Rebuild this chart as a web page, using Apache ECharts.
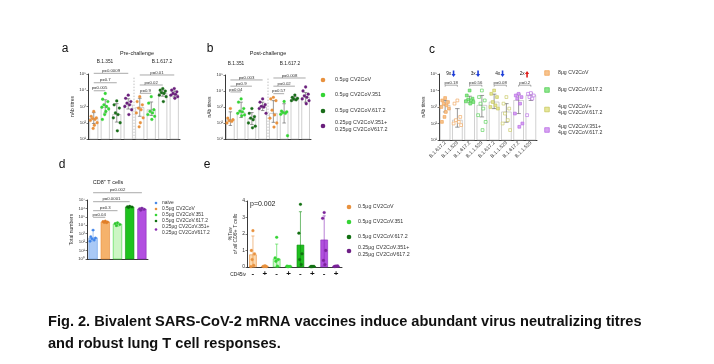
<!DOCTYPE html>
<html><head><meta charset="utf-8">
<script src="https://cdn.jsdelivr.net/npm/echarts@6/dist/echarts.min.js"></script>
<style>html,body{margin:0;padding:0;background:#fff}#c{width:714px;height:364px}</style>
</head><body><div id="c"></div>
<script>
// ================= DATA =================
// Panels a & b (nAb titres, log scale)
const abGroupLabels = ['B.1.351', 'B.1.617.2'];
const abVaccines = ['0.5μg CV2CoV', '0.5μg CV2CoV.351', '0.5μg CV2CoV.617.2', '0.25μg CV2CoV.351+\n0.25μg CV2CoV617.2'];
const abCategories = ['351·CV2CoV', '351·CV2CoV.351', '351·CV2CoV.617.2', '351·bivalent',
                      '617·CV2CoV', '617·CV2CoV.351', '617·CV2CoV.617.2', '617·bivalent'];
const aTitle = 'Pre-challenge';
const aBarValues = [185, 870, 320, 1260, 870, 630, 6760, 5370];
const aErrLow  = [90, 400, 110, 700, 250, 280, 4300, 3900];
const aErrHigh = [420, 2600, 1500, 3000, 3200, 1900, 10500, 9000];
const aPoints = [
  [500, 250, 200, 180, 160, 140, 100, 70, 45],
  [6300, 2800, 2000, 1260, 1000, 900, 700, 500, 320, 160],
  [2200, 1260, 800, 400, 320, 200, 100, 32],
  [5000, 3200, 2000, 1600, 1260, 1000, 630, 320],
  [4000, 2000, 1260, 800, 630, 400, 200, 100, 56],
  [4000, 1600, 630, 500, 400, 320, 250, 160],
  [12600, 10000, 8900, 7100, 6300, 5000, 4000, 2000],
  [12600, 10000, 8000, 6300, 5600, 5000, 4000, 3200]
];
const aPValues = [[0, 1, 9300, 'p=0.005'], [0, 2, 29000, 'p=0.7'], [0, 3, 110000, 'p=0.0009'],
                  [4, 5, 6500, 'p=0.9'], [4, 6, 21000, 'p=0.02'], [4, 7, 87000, 'p=0.01']];

const bTitle = 'Post-challenge';
const bBarValues = [160, 450, 190, 1000, 400, 500, 3200, 4000];
const bErrLow  = [70, 220, 80, 600, 110, 100, 2500, 2000];
const bErrHigh = [500, 2000, 450, 2000, 2500, 1600, 4500, 8000];
const bPoints = [
  [800, 200, 160, 140, 125, 100],
  [3200, 2000, 800, 560, 500, 400, 320, 280],
  [800, 400, 250, 200, 160, 100, 63, 50],
  [3200, 2000, 1400, 1100, 1000, 800, 400],
  [4000, 3200, 2500, 630, 320, 200, 100, 56],
  [2200, 560, 500, 450, 400, 350, 16],
  [5600, 4000, 3500, 3200, 2800, 2500],
  [17800, 10000, 6300, 5000, 4000, 3200, 2500, 1600]
];
const bPValues = [[0, 1, 8700, 'p=0.04'], [0, 2, 20000, 'p=0.9'], [0, 3, 49000, 'p=0.003'],
                  [4, 5, 6800, 'p=0.57'], [4, 6, 20000, 'p=0.02'], [4, 7, 65000, 'p=0.008']];

// Panel c
const cCategories = ['B.1.617.2', 'B.1.1.529', 'B.1.617.2', 'B.1.1.529', 'B.1.617.2', 'B.1.1.529', 'B.1.617.2', 'B.1.1.529'];
const cVaccines = ['8μg CV2CoV', '8μg CV2CoV.617.2', '4μg CV2CoV+\n4μg CV2CoV.617.2', '4μg CV2CoV.351+\n4μg CV2CoV.617.2'];
const cBarValues = [1260, 160, 2800, 1260, 2000, 500, 2500, 5000];
const cErrLow  = [500, 60, 1800, 250, 800, 120, 400, 2500];
const cErrHigh = [2500, 800, 4500, 5000, 6000, 1600, 6000, 7000];
const cPoints = [
  [3500, 2500, 2000, 1600, 1260, 1000, 800, 500, 250, 125],
  [2500, 1600, 250, 160, 125, 100, 80],
  [10000, 5000, 3200, 2800, 2500, 2200, 2000, 1600],
  [10000, 4000, 2500, 1600, 800, 320, 125, 40],
  [10000, 6300, 4000, 2000, 1260, 1000, 800],
  [4000, 1600, 800, 400, 160, 100, 40],
  [6300, 5000, 4000, 3200, 1600, 400, 100, 63],
  [7000, 6300, 5000, 4000, 3200, 320]
];
const cPValues = [[0, 1, 21000, 'p=0.18'], [2, 3, 21000, 'p=0.56'], [4, 5, 21000, 'p=0.08'], [6, 7, 21000, 'p=0.2']];
const cFold = [[0, 1, 100000, '9x', 'down'], [2, 3, 100000, '3x', 'down'], [4, 5, 100000, '4x', 'down'], [6, 7, 100000, '2x', 'up']];

// Panel d
const dTitle = 'CD8⁺ T cells';
const dCategories = ['naive', '0.5μg CV2CoV', '0.5μg CV2CoV.351', '0.5μg CV2CoV.617.2', '0.25μg CV2CoV.351+\n0.25μg CV2CoV617.2'];
const dBarValues = [320, 25000, 14000, 1500000, 850000];
const dErrLow  = [140, 20000, 8000, 1200000, 600000];
const dErrHigh = [2600, 32000, 22000, 1900000, 1200000];
const dPoints = [
  [2700, 450, 320, 250, 180, 130],
  [32000, 28000, 25000, 22000, 20000],
  [20000, 16000, 12600, 9000],
  [1800000, 1600000, 1500000, 1300000],
  [1100000, 900000, 800000, 600000]
];
const dPValues = [[0, 1, 89000, 'p=0.04'], [0, 2, 540000, 'p=0.3'], [0, 3, 6300000, 'p=0.0001'], [0, 4, 73000000, 'p=0.002']];

// Panel e
const eCategories = ['-', '+', '-', '+', '-', '+', '-', '+'];
const eVaccines = ['0.5μg CV2CoV', '0.5μg CV2CoV.351', '0.5μg CV2CoV.617.2', '0.25μg CV2CoV.351+\n0.25μg CV2CoV617.2'];
const eBarValues = [0.74, 0.04, 0.49, 0.04, 1.33, 0.03, 1.64, 0.05];
const eErrLow  = [0, 0.01, 0, 0.02, 0, 0.01, 0.1, 0.02];
const eErrHigh = [1.88, 0.07, 1.39, 0.06, 3.35, 0.05, 3.1, 0.08];
const ePoints = [
  [2.2, 1.0, 0.8, 0.45, 0.1, 0.02],
  [0.06, 0.04, 0.02, 0.03, 0.05],
  [1.8, 0.55, 0.45, 0.35, 0.05],
  [0.03, 0.05, 0.04, 0.02],
  [3.8, 2.05, 0.8, 0.45, 0.15],
  [0.03, 0.02, 0.04, 0.03],
  [3.3, 2.95, 1.0, 0.4, 0.15],
  [0.05, 0.03, 0.06, 0.04]
];
const eTicks = [0, 1, 2, 3, 4];
const ePText = 'p=0.002';

const panelLetters = ['a', 'b', 'c', 'd', 'e'];
const captionLines = ['Fig. 2. Bivalent SARS-CoV-2 mRNA vaccines induce abundant virus neutralizing titres',
                      'and robust lung T cell responses.'];

// ================= STYLE =================
const FONT = '"Liberation Sans", Arial, sans-serif';
const AX = '#222';
const SUP = ['⁰', '¹', '²', '³', '⁴', '⁵', '⁶', '⁷', '⁸'];
const logFmt = v => '10' + SUP[Math.round(Math.log10(v))];
const JIT = [0, -2.6, 2.6, -1.3, 1.3, -3.4, 3.4, 0.6, -0.6, -2.9, 2.9, 1.9, -1.9];

const OR = '#e8913e', GR = '#35d435', DG = '#1a6d1a', PU = '#6a1f7c';
const abDotColors = [OR, GR, DG, PU, OR, GR, DG, PU];
const cCol = ['#f0a050', '#f0a050', '#48cc48', '#48cc48', '#c4c454', '#c4c454', '#b462e4', '#b462e4'];
const cFill = ['#f7c48e', '#ffffff', '#8fe68f', '#ffffff', '#e6e69a', '#ffffff', '#d8a4f2', '#ffffff'];

// ================= HELPERS =================
function barSeries(gi, tops, lo, hi, fills, strokes, errCols, base, frac, lw) {
  return {
    type: 'custom', xAxisIndex: gi, yAxisIndex: gi, z: 2, silent: true,
    data: tops.map((v, i) => [i, v, lo[i], hi[i]]),
    renderItem: (p, api) => {
      const i = api.value(0);
      const t = api.coord([i, api.value(1)]);
      const b = api.coord([i, base]);
      const w = api.size([1, 0])[0] * frac;
      const l = api.coord([i, Math.max(api.value(2), base)]);
      const h = api.coord([i, api.value(3)]);
      const cw = w * 0.45;
      const ec = errCols[i];
      return {
        type: 'group', children: [
          { type: 'rect', shape: { x: t[0] - w / 2, y: t[1], width: w, height: b[1] - t[1] },
            style: { fill: fills[i], stroke: strokes[i], lineWidth: lw } },
          { type: 'line', shape: { x1: t[0], y1: l[1], x2: t[0], y2: h[1] }, style: { stroke: ec, lineWidth: 0.6 } },
          { type: 'line', shape: { x1: t[0] - cw / 2, y1: h[1], x2: t[0] + cw / 2, y2: h[1] }, style: { stroke: ec, lineWidth: 0.6 } },
          { type: 'line', shape: { x1: t[0] - cw / 2, y1: l[1], x2: t[0] + cw / 2, y2: l[1] }, style: { stroke: ec, lineWidth: 0.6 } }
        ]
      };
    }
  };
}
function dotSeries(gi, pts, fillCols, strokeCols, shape, r, spread) {
  const data = [];
  pts.forEach((arr, i) => arr.forEach((v, k) => data.push([i, v, k])));
  return {
    type: 'custom', xAxisIndex: gi, yAxisIndex: gi, z: 5, silent: true, data,
    renderItem: (p, api) => {
      const i = api.value(0), k = api.value(2);
      const c = api.coord([i, api.value(1)]);
      const x = c[0] + JIT[k % JIT.length] * spread;
      if (shape === 'rect') {
        return { type: 'rect', shape: { x: x - r, y: c[1] - r, width: 2 * r, height: 2 * r },
                 style: { fill: fillCols[i], stroke: strokeCols[i], lineWidth: 0.6 } };
      }
      return { type: 'circle', shape: { cx: x, cy: c[1], r }, style: { fill: fillCols[i], stroke: strokeCols[i], lineWidth: 0.3 } };
    }
  };
}
function bracketSeries(gi, br, tick, fs) {
  return {
    type: 'custom', xAxisIndex: gi, yAxisIndex: gi, z: 6, silent: true,
    data: br.map(b => [b[0], b[1], b[2]]),
    renderItem: (p, api) => {
      const a = api.coord([api.value(0), api.value(2)]);
      const b = api.coord([api.value(1), api.value(2)]);
      const ch = [
        { type: 'line', shape: { x1: a[0], y1: a[1], x2: b[0], y2: a[1] }, style: { stroke: '#555', lineWidth: 0.5 } },
        { type: 'text', x: (a[0] + b[0]) / 2, y: a[1] - 0.5,
          style: { text: br[p.dataIndex][3], fontSize: fs, fontFamily: FONT, fill: '#333', align: 'center', verticalAlign: 'bottom' } }
      ];
      if (tick) {
        ch.push({ type: 'line', shape: { x1: a[0], y1: a[1], x2: a[0], y2: a[1] + tick }, style: { stroke: '#555', lineWidth: 0.5 } });
        ch.push({ type: 'line', shape: { x1: b[0], y1: a[1], x2: b[0], y2: a[1] + tick }, style: { stroke: '#555', lineWidth: 0.5 } });
      }
      return { type: 'group', children: ch };
    }
  };
}
function dividerSeries(gi, topVal, base) {
  return {
    type: 'custom', xAxisIndex: gi, yAxisIndex: gi, z: 1, silent: true, data: [[3, 4]],
    renderItem: (p, api) => {
      const a = api.coord([api.value(0), topVal]);
      const b = api.coord([api.value(1), base]);
      const x = (a[0] + b[0]) / 2;
      return { type: 'line', shape: { x1: x, y1: a[1], x2: x, y2: b[1] }, style: { stroke: '#999', lineWidth: 0.6, lineDash: [1.5, 1.5] } };
    }
  };
}
function foldSeries(gi, folds) {
  return {
    type: 'custom', xAxisIndex: gi, yAxisIndex: gi, z: 6, silent: true,
    data: folds.map(f => [f[0], f[1], f[2]]),
    renderItem: (p, api) => {
      const a = api.coord([api.value(0), api.value(2)]);
      const b = api.coord([api.value(1), api.value(2)]);
      const cx = (a[0] + b[0]) / 2, y = a[1];
      const dir = folds[p.dataIndex][4];
      const ax = cx + 2.3;
      const col = dir === 'down' ? '#1f3fd8' : '#e0201c';
      const pts = dir === 'down'
        ? [[ax - 0.8, y - 3.6], [ax + 0.8, y - 3.6], [ax + 0.8, y], [ax + 2.1, y], [ax, y + 3], [ax - 2.1, y], [ax - 0.8, y]]
        : [[ax - 0.8, y + 3.6], [ax + 0.8, y + 3.6], [ax + 0.8, y], [ax + 2.1, y], [ax, y - 3], [ax - 2.1, y], [ax - 0.8, y]];
      return {
        type: 'group', children: [
          { type: 'text', x: cx, y: y, style: { text: folds[p.dataIndex][3], fontSize: 4.8, fontFamily: FONT, fill: '#222', align: 'right', verticalAlign: 'middle' } },
          { type: 'polygon', shape: { points: pts }, style: { fill: col } }
        ]
      };
    }
  };
}
function catX(gi, data, label) {
  return Object.assign({
    gridIndex: gi, type: 'category', data, boundaryGap: true,
    axisTick: { show: false }, axisLabel: { show: false },
    axisLine: { lineStyle: { color: AX, width: 0.9 } }, splitLine: { show: false }
  }, label || {});
}
function logY(gi, min, max, split, name, gap) {
  return {
    gridIndex: gi, type: 'log', logBase: 10, min, max, splitNumber: split,
    axisLine: { show: true, lineStyle: { color: AX, width: 0.9 } },
    axisTick: { show: true, length: 1.5, lineStyle: { color: AX, width: 0.6 } },
    axisLabel: { formatter: logFmt, fontSize: 4.3, margin: 2, color: '#333', fontFamily: FONT },
    splitLine: { show: false }, minorTick: { show: false },
    name, nameLocation: 'middle', nameGap: gap, nameRotate: 90,
    nameTextStyle: { fontSize: 5, color: '#333', fontFamily: FONT }
  };
}

// ================= GRAPHICS (text, legends) =================
const graphics = [];
function txt(x, y, text, size, opts) {
  graphics.push({ type: 'text', x, y, silent: true,
    style: Object.assign({ text, fontSize: size, fontFamily: FONT, fill: '#222', align: 'left', verticalAlign: 'middle', lineHeight: size * 1.15 }, opts || {}) });
}
function legend(x, tx, ys, labels, markers, fs) {
  labels.forEach((lab, i) => {
    const m = markers[i];
    if (m.shape === 'rect') {
      graphics.push({ type: 'rect', silent: true, shape: { x: x - m.r, y: ys[i] - m.r, width: 2 * m.r, height: 2 * m.r }, style: { fill: m.fill, stroke: m.stroke, lineWidth: 0.7 } });
    } else {
      graphics.push({ type: 'circle', silent: true, shape: { cx: x, cy: ys[i], r: m.r }, style: { fill: m.fill } });
    }
    txt(tx, ys[i], lab, fs, { fill: '#333' });
  });
}
// panel letters
const letterPos = [[65, 49], [210, 49], [432, 50], [62, 165], [207, 165]];
panelLetters.forEach((l, i) => txt(letterPos[i][0], letterPos[i][1], l, 12, { align: 'center', fill: '#111' }));
// titles
txt(137, 53, aTitle, 5.5, { align: 'center' });
txt(268, 53, bTitle, 5.5, { align: 'center' });
txt(105, 62, abGroupLabels[0], 4.8, { align: 'center' });
txt(162, 62, abGroupLabels[1], 4.8, { align: 'center' });
txt(236, 64, abGroupLabels[0], 4.8, { align: 'center' });
txt(290, 64, abGroupLabels[1], 4.8, { align: 'center' });
txt(108, 182, dTitle, 5.5, { align: 'center' });
txt(250, 204, ePText, 7, { align: 'left' });
txt(246, 275, 'CD45iv', 4.8, { align: 'right' });
// legends
legend(323, 335, [80, 95, 111, 126], abVaccines,
  [OR, GR, DG, PU].map(c => ({ shape: 'circle', r: 2.3, fill: c })), 5.4);
legend(547, 558, [73, 90, 109.5, 130], cVaccines,
  [0, 2, 4, 6].map(i => ({ shape: 'rect', r: 2.3, fill: cFill[i], stroke: cCol[i] })), 5.2);
legend(156, 162, [203, 209, 215, 221, 229.5], dCategories,
  ['#4a8ae8', OR, GR, '#127012', '#8a2cb0'].map(c => ({ shape: 'circle', r: 1.3, fill: c })), 4.9);
legend(349, 358, [207, 222, 237, 251], eVaccines,
  [OR, GR, '#127012', '#6e1f86'].map(c => ({ shape: 'circle', r: 2.3, fill: c })), 5.3);
// caption
txt(48, 322, captionLines[0], 14.6, { fontWeight: 'bold', fill: '#111' });
txt(48, 344, captionLines[1], 14.6, { fontWeight: 'bold', fill: '#111' });

// ================= OPTION =================
const white8 = new Array(8).fill('#ffffff');
const gray8 = new Array(8).fill('#b0b0b0');
const dark8 = new Array(8).fill('#555');

const dFills = ['#a9c9f6', '#f5b26c', '#ccf6c4', '#1ec21e', '#b24fe0'];
const dStrokes = ['#6a9fe8', '#e58a35', '#3bd63b', '#129012', '#8a2cb8'];
const dDots = ['#3f84ea', '#e07f28', '#2fc42f', '#0d6a0d', '#7a2aa0'];
const eFills = ['#fcd9ae', '#fcd9ae', '#d4f7cf', '#d4f7cf', '#1fc01f', '#1fc01f', '#b150de', '#b150de'];
const eStrokes = ['#e8913e', '#e8913e', '#3bd63b', '#3bd63b', '#129012', '#129012', '#8a2cb8', '#8a2cb8'];
const eDots = ['#e8913e', '#e8913e', '#35d435', '#35d435', '#127012', '#127012', '#7b2399', '#7b2399'];

const option = {
  animation: false,
  backgroundColor: '#ffffff',
  textStyle: { fontFamily: FONT },
  grid: [
    { left: 88, top: 74, width: 92, height: 65 },
    { left: 225, top: 75, width: 86, height: 64 },
    { left: 439, top: 74, width: 98, height: 66 },
    { left: 87, top: 200, width: 61, height: 59 },
    { left: 247, top: 201, width: 95, height: 66 }
  ],
  xAxis: [
    catX(0, abCategories),
    catX(1, abCategories),
    catX(2, cCategories, { axisLabel: { show: true, rotate: 45, fontSize: 5, margin: 2, interval: 0, color: '#333', fontFamily: FONT } }),
    catX(3, dCategories.map(s => s.replace('\n', ' '))),
    catX(4, eCategories, { axisLabel: { show: true, fontSize: 8, fontWeight: 'bold', margin: 3, interval: 0, color: '#111', fontFamily: FONT } })
  ],
  yAxis: [
    logY(0, 10, 100000, 4, 'nAb titres', 13),
    logY(1, 10, 100000, 4, 'nAb titres', 13),
    logY(2, 10, 100000, 4, 'nAb titres', 11),
    logY(3, 1, 10000000, 7, 'Total numbers', 13),
    {
      gridIndex: 4, type: 'value', min: eTicks[0], max: eTicks[eTicks.length - 1], interval: 1,
      axisLine: { show: true, lineStyle: { color: AX, width: 0.9 } },
      axisTick: { show: true, length: 1.5, lineStyle: { color: AX, width: 0.6 } },
      axisLabel: { fontSize: 5, margin: 2, color: '#333', fontFamily: FONT },
      splitLine: { show: false },
      name: '{i|%T}{s|RM}\n{i|of all CD8+ T cells}', nameLocation: 'middle', nameGap: 5, nameRotate: 90,
      nameTextStyle: { fontFamily: FONT, rich: { i: { fontSize: 5, fontStyle: 'italic', color: '#333' }, s: { fontSize: 3.6, fontStyle: 'italic', color: '#333' } } }
    }
  ],
  series: [
    dividerSeries(0, 60000, 10),
    barSeries(0, aBarValues, aErrLow, aErrHigh, white8, gray8, dark8, 10, 0.72, 0.6),
    dotSeries(0, aPoints, abDotColors, abDotColors, 'circle', 1.4, 1),
    bracketSeries(0, aPValues, 0, 4.3),

    dividerSeries(1, 60000, 10),
    barSeries(1, bBarValues, bErrLow, bErrHigh, white8, gray8, dark8, 10, 0.72, 0.6),
    dotSeries(1, bPoints, abDotColors, abDotColors, 'circle', 1.4, 1),
    bracketSeries(1, bPValues, 0, 4.3),

    barSeries(2, cBarValues, cErrLow, cErrHigh, white8, gray8, dark8, 10, 0.8, 0.6),
    dotSeries(2, cPoints, cFill, cCol, 'rect', 1.4, 1.1),
    bracketSeries(2, cPValues, 1.5, 4.3),
    foldSeries(2, cFold),

    barSeries(3, dBarValues, dErrLow, dErrHigh, dFills, dStrokes, dStrokes, 1, 0.7, 0.6),
    dotSeries(3, dPoints, dDots, dDots, 'circle', 1.2, 0.9),
    bracketSeries(3, dPValues, 0, 4.3),

    barSeries(4, eBarValues, eErrLow, eErrHigh, eFills, eStrokes, eStrokes, 0, 0.58, 0.6),
    dotSeries(4, ePoints, eDots, eDots, 'circle', 1.4, 0.6)
  ],
  graphic: { elements: graphics }
};
const chart = echarts.init(document.getElementById('c'), null, { renderer: 'canvas' });
chart.setOption(option);
</script>
</body></html>
